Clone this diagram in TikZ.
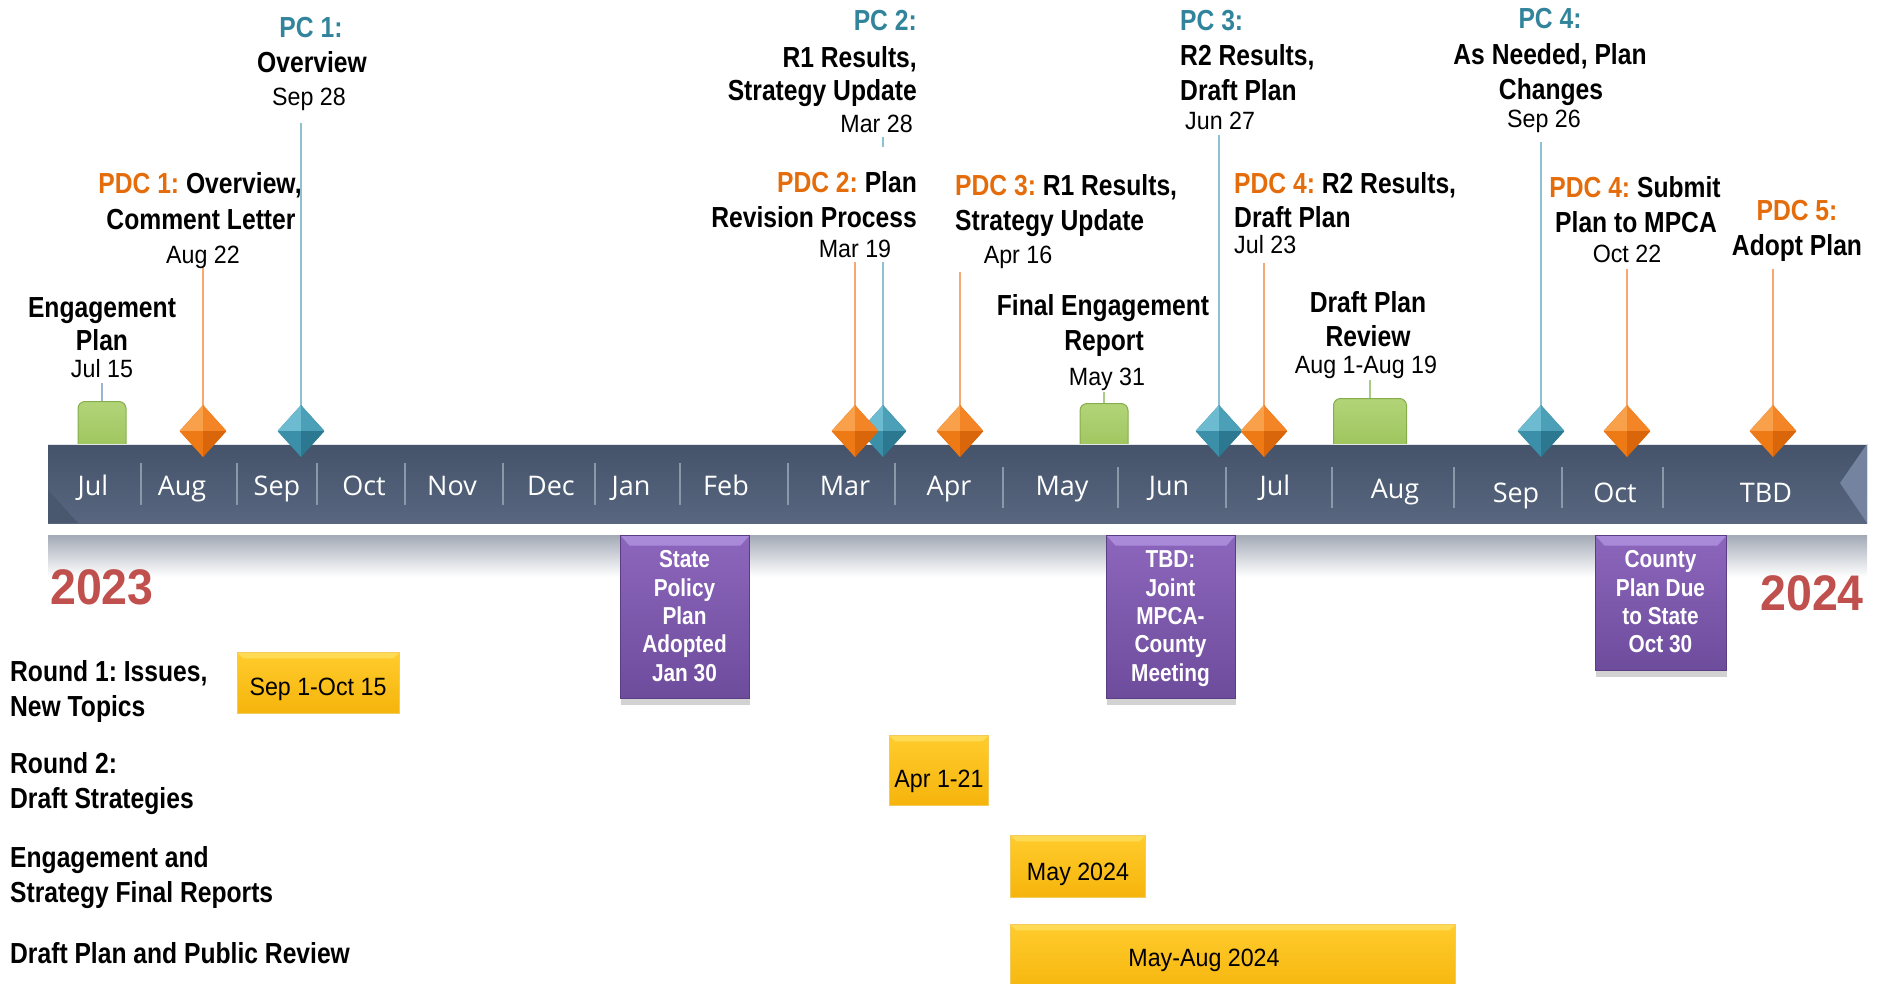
\documentclass[tikz,border=0pt]{standalone}
\usepackage{fontspec}
\setmainfont{Liberation Sans}
\newfontfamily\fb{Liberation Sans}[FakeStretch=0.85]
\newfontfamily\fr{Liberation Sans}[FakeStretch=0.93]
\newfontfamily\fm{Open Sans}
\usetikzlibrary{shapes.geometric,shadows}
\frenchspacing
\definecolor{pcteal}{HTML}{31849B}
\definecolor{pdcor}{HTML}{E46C0A}
\definecolor{yred}{HTML}{C0504D}
\definecolor{bartop}{HTML}{44526A}
\definecolor{barbot}{HTML}{58677F}
\definecolor{barlite}{HTML}{7484A0}
\definecolor{bardark}{HTML}{4A586F}
\definecolor{sepc}{HTML}{8C97AA}
\definecolor{refl}{HTML}{A3AAB6}
\definecolor{grtop}{HTML}{B2D478}
\definecolor{grbot}{HTML}{98C055}
\definecolor{grbd}{HTML}{86AD4C}
\definecolor{oa}{HTML}{F9A04A}
\definecolor{ob}{HTML}{F38526}
\definecolor{oc}{HTML}{EE7A16}
\definecolor{od}{HTML}{D9660A}
\definecolor{ta}{HTML}{6DBBD0}
\definecolor{tb}{HTML}{4BA0B8}
\definecolor{tc}{HTML}{3B8FA8}
\definecolor{td}{HTML}{2B7890}
\definecolor{tline}{HTML}{8DC0D0}
\definecolor{oline}{HTML}{F6A870}
\definecolor{gline}{HTML}{A8CB86}
\definecolor{bline}{HTML}{9DB5D5}
\definecolor{putop}{HTML}{8C66BC}
\definecolor{pubot}{HTML}{6E4C9C}
\definecolor{pulite}{HTML}{A98AD9}
\definecolor{pubd}{HTML}{5A3D84}
\definecolor{yetop}{HTML}{FFCC2C}
\definecolor{yebot}{HTML}{F6B40C}
\definecolor{yelite}{HTML}{FFDB55}
\definecolor{yebd}{HTML}{F3CB5C}
\begin{document}
\begin{tikzpicture}[x=1pt,y=-1pt,
  lb/.style={inner sep=0pt, anchor=base, font=\fb\bfseries\fontsize{29}{34}\selectfont},
  lbw/.style={lb, anchor=base west},
  lbe/.style={lb, anchor=base east},
  dt/.style={inner sep=0pt, anchor=base, font=\fr\fontsize{25}{30}\selectfont},
  dtw/.style={dt, anchor=base west},
  dte/.style={dt, anchor=base east},
  mon/.style={inner sep=0pt, anchor=base, text=white, font=\fm\fontsize{27}{32}\selectfont},
  purtext/.style={inner sep=0pt, anchor=base, text=white, font=\fb\bfseries\fontsize{24.5}{29}\selectfont},
  yr/.style={inner sep=0pt, text=yred, font=\fr\bfseries\fontsize{50}{58}\selectfont},
  gem/.style n args={4}{shape=diamond, minimum width=47pt, minimum height=52pt, inner sep=0pt, fill=#4,
    path picture={
      \fill[#1] (path picture bounding box.north west) rectangle (path picture bounding box.center);
      \fill[#2] (path picture bounding box.north east) rectangle (path picture bounding box.center);
      \fill[#3] (path picture bounding box.south west) rectangle (path picture bounding box.center);
      \fill[#4] (path picture bounding box.south east) rectangle (path picture bounding box.center);
    }},
  ogem/.style={gem={oa}{ob}{oc}{od}},
  tgem/.style={gem={ta}{tb}{tc}{td}},
  greenbox/.style={rounded corners=7pt, top color=grtop, bottom color=grbot, draw=grbd, line width=1pt,
    inner sep=0pt, anchor=north, minimum height=62pt},
  pbox/.style={draw=pubd, line width=1pt, top color=putop, bottom color=pubot, inner sep=0pt, anchor=north west,
    drop shadow={shadow xshift=0pt, shadow yshift=-6pt, opacity=0.25, fill=black!70},
    path picture={\fill[pulite] (path picture bounding box.north west) -- (path picture bounding box.north east)
      -- ([xshift=-9pt,yshift=-10pt]path picture bounding box.north east)
      -- ([xshift=9pt,yshift=-10pt]path picture bounding box.north west) -- cycle;}},
  ybox/.style={draw=yebd, line width=0.8pt, top color=yetop, bottom color=yebot, inner sep=0pt, anchor=north west,
    path picture={\fill[yelite] (path picture bounding box.north west) -- (path picture bounding box.north east)
      -- ([xshift=-6pt,yshift=-6pt]path picture bounding box.north east)
      -- ([xshift=6pt,yshift=-6pt]path picture bounding box.north west) -- cycle;}},
  tconn/.style={draw=tline, line width=1.3pt},
  oconn/.style={draw=oline, line width=1.3pt},
  gconn/.style={draw=gline, line width=1.3pt},
  bconn/.style={draw=bline, line width=1.3pt}
]
\useasboundingbox (0,0) rectangle (1877,983);

% reflection band
\fill[top color=refl, bottom color=white] (48,535) rectangle (1867,577);

% green markers (behind bar)
\node[greenbox, minimum width=48pt] (g1) at (102,401) {};
\node[greenbox, minimum width=48pt] (g2) at (1104,403) {};
\node[greenbox, minimum width=73pt] (g3) at (1370,398) {};

% bar
\fill[top color=bartop, bottom color=barbot] (48,444) rectangle (1867,523);
\fill[barlite] (1867,444) -- (1840,483) -- (1867,523) -- cycle;
\fill[bardark] (48,490) -- (78,523) -- (48,523) -- cycle;
\draw[white!85!bartop, line width=0.6pt] (48,444) -- (1867,444);

% separators
\foreach \sx in {141,237,317,405,503,595,680,788,895}
  \draw[sepc, line width=1.3pt] (\sx,463) -- (\sx,505);
\foreach \sx in {1003,1118,1226,1332,1454,1562,1663}
  \draw[sepc, line width=1.3pt] (\sx,467) -- (\sx,508);

% months
\node[mon] (m1) at (93,495) {Jul};
\node[mon] (m2) at (182,495) {Aug};
\node[mon] (m3) at (277,495) {Sep};
\node[mon] (m4) at (364,495) {Oct};
\node[mon] (m5) at (452,495) {Nov};
\node[mon] (m6) at (551,495) {Dec};
\node[mon] (m7) at (631,495) {Jan};
\node[mon] (m8) at (726,495) {Feb};
\node[mon] (m9) at (845,495) {Mar};
\node[mon] (m10) at (949,495) {Apr};
\node[mon] (m11) at (1062,495) {May};
\node[mon] (m12) at (1169,495) {Jun};
\node[mon] (m13) at (1275,495) {Jul};
\node[mon] (m14) at (1395,498) {Aug};
\node[mon] (m15) at (1516,502) {Sep};
\node[mon] (m16) at (1615,502) {Oct};
\node[mon] (m17) at (1766,502) {TBD};

% connector tops
\coordinate (c1) at (203,268);
\coordinate (c2) at (301,123);
\coordinate (c3a) at (883,137);
\coordinate (c3b) at (883,147);
\coordinate (c3c) at (883,262);
\coordinate (c4) at (855,262);
\coordinate (c5) at (960,272);
\coordinate (c6) at (1219,135);
\coordinate (c7) at (1264,263);
\coordinate (c8) at (1541,142);
\coordinate (c9) at (1627,269);
\coordinate (c10) at (1773,269);
\coordinate (cg1) at (102,383);
\coordinate (cg2) at (1104,392);
\coordinate (cg3) at (1370,380);

% diamond positions
\path (203,431) coordinate (p1) (301,431) coordinate (p2) (883,431) coordinate (p3)
      (855,431) coordinate (p4) (960,431) coordinate (p5) (1219,431) coordinate (p6)
      (1264,431) coordinate (p7) (1541,431) coordinate (p8) (1627,431) coordinate (p9)
      (1773,431) coordinate (p10);

% connectors
\draw[oconn] (c1) -- (p1);
\draw[tconn] (c2) -- (p2);
\draw[tconn] (c3a) -- (c3b);
\draw[tconn] (c3c) -- (p3);
\draw[oconn] (c4) -- (p4);
\draw[oconn] (c5) -- (p5);
\draw[tconn] (c6) -- (p6);
\draw[oconn] (c7) -- (p7);
\draw[tconn] (c8) -- (p8);
\draw[oconn] (c9) -- (p9);
\draw[oconn] (c10) -- (p10);
\draw[bconn] (cg1) -- (g1.north);
\draw[gconn] (cg2) -- (g2.north);
\draw[gconn] (cg3) -- (g3.north);

% diamonds
\node[ogem] (d1) at (p1) {};
\node[tgem] (d2) at (p2) {};
\node[tgem] (d3) at (p3) {};
\node[ogem] (d4) at (p4) {};
\node[ogem] (d5) at (p5) {};
\node[tgem] (d6) at (p6) {};
\node[ogem] (d7) at (p7) {};
\node[tgem] (d8) at (p8) {};
\node[ogem] (d9) at (p9) {};
\node[ogem] (d10) at (p10) {};

% top labels
\node[lb, text=pcteal] (pc1a) at (311,37) {PC 1:};
\node[lb] (pc1b) at (312,72) {Overview};
\node[dt] (pc1c) at (309,105) {Sep 28};

\node[lb] (pdc1a) at (200,193) {{\color{pdcor}PDC 1:} Overview,};
\node[lb] (pdc1b) at (201,229) {Comment Letter};
\node[dt] (pdc1c) at (203,263) {Aug 22};

\node[lb] (ep1) at (102,317) {Engagement};
\node[lb] (ep2) at (102,350) {Plan};
\node[dt] (ep3) at (102,377) {Jul 15};

\node[lbe, text=pcteal] (pc2a) at (917,30) {PC 2:};
\node[lbe] (pc2b) at (917,67) {R1 Results,};
\node[lbe] (pc2c) at (917,100) {Strategy Update};
\node[dte] (pc2d) at (913,132) {Mar 28};

\node[lbe] (pdc2a) at (917,192) {{\color{pdcor}PDC 2:} Plan};
\node[lbe] (pdc2b) at (917,227) {Revision Process};
\node[dt] (pdc2c) at (855,257) {Mar 19};

\node[lbw] (pdc3a) at (955,195) {{\color{pdcor}PDC 3:} R1 Results,};
\node[lbw] (pdc3b) at (955,230) {Strategy Update};
\node[dt] (pdc3c) at (1018,263) {Apr 16};

\node[lb] (fe1) at (1103,315) {Final Engagement};
\node[lb] (fe2) at (1104,350) {Report};
\node[dt] (fe3) at (1107,385) {May 31};

\node[lbw, text=pcteal] (pc3a) at (1180,30) {PC 3:};
\node[lbw] (pc3b) at (1180,65) {R2 Results,};
\node[lbw] (pc3c) at (1180,100) {Draft Plan};
\node[dtw] (pc3d) at (1185,129) {Jun 27};

\node[lbw] (pdc4a) at (1234,193) {{\color{pdcor}PDC 4:} R2 Results,};
\node[lbw] (pdc4b) at (1234,227) {Draft Plan};
\node[dtw] (pdc4c) at (1234,253) {Jul 23};

\node[lb] (dr1) at (1368,312) {Draft Plan};
\node[lb] (dr2) at (1368,346) {Review};
\node[dt] (dr3) at (1366,373) {Aug 1-Aug 19};

\node[lb, text=pcteal] (pc4a) at (1550,28) {PC 4:};
\node[lb] (pc4b) at (1550,64) {As Needed, Plan};
\node[lb] (pc4c) at (1551,99) {Changes};
\node[dt] (pc4d) at (1544,127) {Sep 26};

\node[lb] (pdc4d) at (1635,197) {{\color{pdcor}PDC 4:} Submit};
\node[lb] (pdc4e) at (1636,232) {Plan to MPCA};
\node[dt] (pdc4f) at (1627,262) {Oct 22};

\node[lb, text=pdcor] (pdc5a) at (1797,220) {PDC 5:};
\node[lb] (pdc5b) at (1797,255) {Adopt Plan};

% years
\node[yr, anchor=base west] (y23) at (50,604) {2023};
\node[yr, anchor=base east] (y24) at (1864,610) {2024};

% purple boxes
\node[pbox, minimum width=129pt, minimum height=163pt] (pb1) at (620,535) {};
\node[purtext] (pb1a) at (684.5,567) {State};
\node[purtext] (pb1b) at (684.5,596) {Policy};
\node[purtext] (pb1c) at (684.5,624) {Plan};
\node[purtext] (pb1d) at (684.5,652) {Adopted};
\node[purtext] (pb1e) at (684.5,681) {Jan 30};

\node[pbox, minimum width=129pt, minimum height=163pt] (pb2) at (1106,535) {};
\node[purtext] (pb2a) at (1170.5,567) {TBD:};
\node[purtext] (pb2b) at (1170.5,596) {Joint};
\node[purtext] (pb2c) at (1170.5,624) {MPCA-};
\node[purtext] (pb2d) at (1170.5,652) {County};
\node[purtext] (pb2e) at (1170.5,681) {Meeting};

\node[pbox, minimum width=131pt, minimum height=135pt] (pb3) at (1595,535) {};
\node[purtext] (pb3a) at (1660.5,567) {County};
\node[purtext] (pb3b) at (1660.5,596) {Plan Due};
\node[purtext] (pb3c) at (1660.5,624) {to State};
\node[purtext] (pb3d) at (1660.5,652) {Oct 30};

% left row labels
\node[lbw] (r1a) at (10,681) {Round 1: Issues,};
\node[lbw] (r1b) at (10,716) {New Topics};
\node[lbw] (r2a) at (10,773) {Round 2:};
\node[lbw] (r2b) at (10,808) {Draft Strategies};
\node[lbw] (r3a) at (10,867) {Engagement and};
\node[lbw] (r3b) at (10,902) {Strategy Final Reports};
\node[lbw] (r4a) at (10,963) {Draft Plan and Public Review};

% yellow boxes
\node[ybox, minimum width=162pt, minimum height=61pt] (yb1) at (237,652) {};
\node[dt] (yb1t) at (318,695) {Sep 1-Oct 15};
\node[ybox, minimum width=99pt, minimum height=70pt] (yb2) at (889,735) {};
\node[dt] (yb2t) at (939,787) {Apr 1-21};
\node[ybox, minimum width=135pt, minimum height=62pt] (yb3) at (1010,835) {};
\node[dt] (yb3t) at (1078,880) {May 2024};
\node[ybox, minimum width=445pt, minimum height=70pt] (yb4) at (1010,924) {};
\node[dt] (yb4t) at (1204,966) {May-Aug 2024};
\end{tikzpicture}
\end{document}
